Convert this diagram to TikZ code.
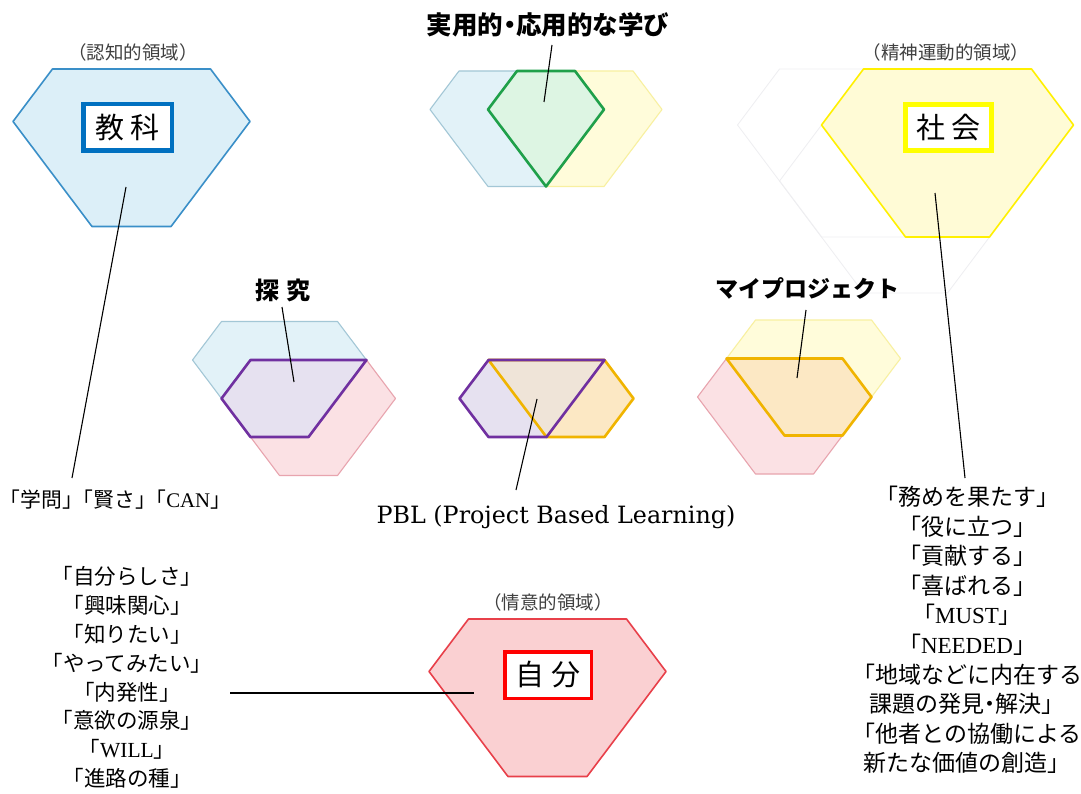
\documentclass[tikz,border=0pt]{standalone}
\usepackage{fontspec}
\setmainfont{Liberation Serif}
\newfontfamily\jp{Noto Sans CJK JP}
\newfontfamily\lat{Liberation Serif}
\newfontfamily\pblfont{DejaVu Serif}
\definecolor{bBlueL}{HTML}{3A8FC8}
\definecolor{bBlueF}{HTML}{DCEFF8}
\definecolor{sBlueL}{HTML}{A3C7D6}
\definecolor{sBlueF}{HTML}{E2F2F8}
\definecolor{bYelL}{HTML}{FFF000}
\definecolor{bYelF}{HTML}{FFFBD6}
\definecolor{sYelL}{HTML}{F8F0A0}
\definecolor{sYelF}{HTML}{FFFCDA}
\definecolor{bPinkL}{HTML}{E8404A}
\definecolor{bPinkF}{HTML}{FAD0D2}
\definecolor{sPinkL}{HTML}{E8A4AE}
\definecolor{sPinkF}{HTML}{FBE1E4}
\definecolor{grnL}{HTML}{1FA04A}
\definecolor{grnF}{HTML}{DDF5E3}
\definecolor{purL}{HTML}{7030A0}
\definecolor{purF}{HTML}{E6E1F0}
\definecolor{orgL}{HTML}{F0B400}
\definecolor{orgF}{HTML}{FCE8C4}
\definecolor{midF}{HTML}{EFE4D8}
\definecolor{ghost}{HTML}{EEEEF1}
\definecolor{boxBlue}{HTML}{0070C0}
\definecolor{boxYel}{HTML}{FFFF00}
\definecolor{boxRed}{HTML}{FF0000}
\definecolor{domain}{HTML}{404040}
\newcommand{\gemhex}[4]{({#1-2*#3},{#2}) -- ({#1+2*#3},{#2}) -- ({#1+3*#3},{#2+#4}) -- ({#1+#3},{#2+3*#4}) -- ({#1-#3},{#2+3*#4}) -- ({#1-3*#3},{#2+#4}) -- cycle}
\newcommand{\nakaguro}{\kern-0.25em・\kern-0.25em}
\tikzset{
  bighex/.style={line width=1.6pt, line join=round},
  smallhex/.style={line width=1.1pt, line join=round},
  overlap/.style={line width=2.6pt, line join=round},
  labelbox/.style={draw, fill=white, inner sep=0pt, font=\jp\fontsize{29}{29}\selectfont},
  domainlbl/.style={text=domain, inner sep=0pt, font=\jp\fontsize{18.5}{19}\selectfont},
  headlbl/.style={inner sep=0pt, font=\jp\bfseries\fontsize{23}{23}\selectfont},
  listtxt/.style={align=center, inner sep=0pt, font=\jp\fontsize{21.5}{28.8}\selectfont},
  listtxtr/.style={align=center, inner sep=0pt, font=\jp\fontsize{23}{29.55}\selectfont},
  conn/.style={draw=black, line width=1.1pt}
}
\begin{document}
\begin{tikzpicture}[x=1pt,y=-1pt]
\useasboundingbox (0,0) rectangle (1081,794);
\fill[white] (0,0) rectangle (1081,794);

% ---- big hexagons ----
\draw[bighex, draw=bBlueL, fill=bBlueF] \gemhex{131.5}{69}{39.5}{52.5};
\draw[line width=0.8pt, draw=ghost] \gemhex{905.5}{125}{42}{56};
\draw[line width=0.8pt, draw=ghost] \gemhex{863.5}{69}{42}{56};
\draw[bighex, draw=bYelL, fill=bYelF] \gemhex{947.5}{69}{42}{56};
\draw[bighex, draw=bPinkL, fill=bPinkF] \gemhex{547.5}{619}{39.5}{52.5};

% ---- top middle: practical learning ----
\draw[smallhex, draw=sBlueL, fill=sBlueF] \gemhex{517}{71}{29}{38.5};
\draw[smallhex, draw=sYelL, fill=sYelF] \gemhex{575}{71}{29}{38.5};
\draw[overlap, draw=grnL, fill=grnF] (517,71) -- (575,71) -- (604,109.5) -- (546,186.5) -- (488,109.5) -- cycle;

% ---- middle left: tankyu ----
\draw[smallhex, draw=sBlueL, fill=sBlueF] \gemhex{279.5}{321.5}{29}{38.5};
\draw[smallhex, draw=sPinkL, fill=sPinkF] \gemhex{308.5}{360}{29}{38.5};
\draw[overlap, draw=purL, fill=purF] (250.5,360) -- (366.5,360) -- (308.5,437) -- (250.5,437) -- (221.5,398.5) -- cycle;

% ---- middle right: my project ----
\draw[smallhex, draw=sYelL, fill=sYelF] \gemhex{813.5}{320}{29}{38.5};
\draw[smallhex, draw=sPinkL, fill=sPinkF] \gemhex{784.5}{358.5}{29}{38.5};
\draw[overlap, draw=orgL, fill=orgF] (726.5,358.5) -- (842.5,358.5) -- (871.5,397) -- (842.5,435.5) -- (784.5,435.5) -- cycle;

% ---- middle centre: PBL ----
\fill[purF] (488.5,360) -- (604.5,360) -- (546.5,437) -- (488.5,437) -- (459.5,398.5) -- cycle;
\fill[orgF] (488.5,360) -- (604.5,360) -- (633.5,398.5) -- (604.5,437) -- (546.5,437) -- cycle;
\fill[midF] (488.5,360) -- (604.5,360) -- (546.5,437) -- cycle;
\draw[overlap, draw=orgL] (488.5,360) -- (604.5,360) -- (633.5,398.5) -- (604.5,437) -- (546.5,437) -- cycle;
\draw[overlap, draw=purL] (488.5,360) -- (604.5,360) -- (546.5,437) -- (488.5,437) -- (459.5,398.5) -- cycle;

% ---- label boxes ----
\node[labelbox, draw=boxBlue, line width=4.5pt, minimum width=88.5pt, minimum height=46.5pt] (kyouka) at (127.5,127.5) {教 科};
\node[labelbox, draw=boxYel, line width=5pt, minimum width=86pt, minimum height=46pt] (shakai) at (948.5,127.5) {社 会};
\node[labelbox, draw=boxRed, line width=3.5pt, minimum width=86.5pt, minimum height=46.5pt] (jibun) at (548,675) {自 分};

% ---- domain labels ----
\node[domainlbl] (ninchi) at (133,52) {（認知的領域）};
\node[domainlbl] (seishin) at (946,52) {（精神運動的領域）};
\node[domainlbl] (joui) at (548,602) {（情意的領域）};

% ---- headings ----
\node[headlbl, font=\jp\bfseries\fontsize{25.5}{26}\selectfont] (jitsuyou) at (548,25) {実用的\nakaguro 応用的な学び};
\node[headlbl, font=\jp\bfseries\fontsize{24}{24}\selectfont] (tankyu) at (283,290) {探\hspace{0.3em}究};
\node[headlbl] (mypj) at (807,288) {マイプロジェクト};

% ---- texts ----
\node[listtxt, font=\jp\fontsize{20.8}{21}\selectfont] (gakumon) at (115.5,500) {\kern-0.45em「学問」\kern-0.5em「賢さ」\kern-0.5em「\lat CAN\jp 」\kern-0.45em};
\node[inner sep=0pt, font=\pblfont\fontsize{23.8}{24}\selectfont] (pbl) at (556,517) {PBL (Project Based Learning)};
\node[listtxt] (leftlist) at (127,677.5) {「自分らしさ」\\「興味関心」\\「知りたい」\\「やってみたい」\\「内発性」\\「意欲の源泉」\\「\lat WILL\jp 」\\「進路の種」};
\node[listtxtr] (rightlist) at (967,630) {「務めを果たす」\\「役に立つ」\\「貢献する」\\「喜ばれる」\\「\lat MUST\jp 」\\「\lat NEEDED\jp 」\\「地域などに内在する\\課題の発見\nakaguro 解決」\\「他者との協働による\\新たな価値の創造」};

% ---- connectors ----
\coordinate (k1) at (126,187);
\coordinate (k2) at (72,478);
\coordinate (j1) at (552,45);
\coordinate (j2) at (544,102);
\coordinate (s1) at (935,193);
\coordinate (s2) at (965,478);
\coordinate (t1) at (282,307);
\coordinate (t2) at (294,382);
\coordinate (m1) at (806,310);
\coordinate (m2) at (797,378);
\coordinate (p1) at (537,399);
\coordinate (p2) at (516,490);
\coordinate (b1) at (230,693);
\coordinate (b2) at (474,693);
\draw[conn] (k1) -- (k2);
\draw[conn] (j1) -- (j2);
\draw[conn] (s1) -- (s2);
\draw[conn] (t1) -- (t2);
\draw[conn] (m1) -- (m2);
\draw[conn] (p1) -- (p2);
\draw[conn] (b1) -- (b2);
\end{tikzpicture}
\end{document}
